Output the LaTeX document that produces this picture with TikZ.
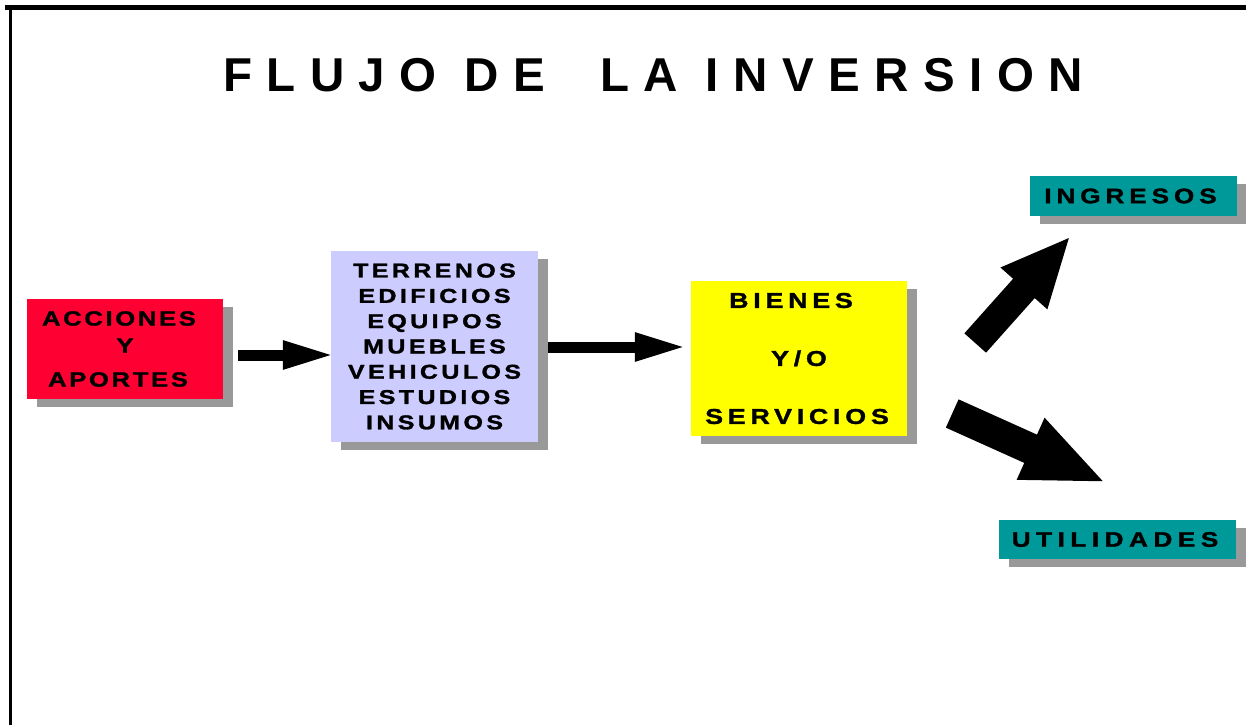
\documentclass[tikz,border=0pt]{standalone}
\usepackage{fontspec}
\setmainfont{Liberation Sans}
\newfontfamily\titlefont[LetterSpace=30.5]{Liberation Sans Bold}
\newfontfamily\boxfont[FakeStretch=1.25, FakeBold=1.5]{Liberation Sans Bold}
\usetikzlibrary{arrows.meta}
\usetikzlibrary{shadows}
\definecolor{acciones red}{HTML}{FF0033}
\definecolor{lavender}{HTML}{CCCCFF}
\definecolor{bienes yellow}{HTML}{FFFF00}
\definecolor{teal box}{HTML}{009999}
\definecolor{shadow gray}{HTML}{999999}
\newcommand\boxsize[3]{\boxfont\addfontfeature{LetterSpace=#3}\fontsize{#1}{#2}\selectfont}
\tikzstyle{block}=[inner sep=0pt, align=center,
  general shadow={shadow xshift=10pt, shadow yshift=-8pt, fill=shadow gray}]
\tikzstyle{flow arrow}=[line width=11pt, -{Triangle[length=52pt, width=26pt]}]
\tikzstyle{border}=[line cap=butt]

\begin{document}
\begin{tikzpicture}[x=1pt, y=-1pt]
      \useasboundingbox (0, 0) rectangle (1246, 725);
      \draw[border, line width=5pt] (5, 8) -- (1246, 8);
      \draw[border, line width=3pt] (10.5, 10) -- (10.5, 725);
      \node[anchor=base, font=\titlefont\fontsize{47.5}{50}\selectfont]
        (title) at (653, 91) {FLUJO DE\ \ LA INVERSION};
      \node[block, fill=acciones red, minimum width=196pt, minimum height=100pt,
        font=\boxsize{20.5}{27}{13}]
        (acciones) at (125, 349)
        {ACCIONES\hspace*{12pt}\\Y\hspace*{12pt}\\[7pt]APORTES\hspace*{14pt}};
      \node[block, fill=lavender, minimum width=207pt, minimum height=191pt,
        font=\boxsize{20}{25.3}{17}]
        (bienes capital) at (434.5, 346.5)
        {TERRENOS\\EDIFICIOS\\EQUIPOS\\MUEBLES\\VEHICULOS\\ESTUDIOS\\INSUMOS};
      \node[block, fill=bienes yellow, minimum width=216pt, minimum height=155pt,
        font=\boxsize{21.5}{58}{22}]
        (productos) at (799, 358.5)
        {BIENES\hspace*{16pt}\\Y/O\hspace*{3pt}\\SERVICIOS\hspace*{4pt}};
      \node[block, fill=teal box, minimum width=207pt, minimum height=40pt,
        font=\boxsize{21}{24}{23}]
        (ingresos) at (1133.5, 196) {INGRESOS\hspace*{6pt}};
      \node[block, fill=teal box, minimum width=237pt, minimum height=39pt,
        font=\boxsize{21}{24}{26}]
        (utilidades) at (1117.5, 539.5) {UTILIDADES\hspace*{5pt}};
      \draw[flow arrow] ([shift={(15, 6)}]acciones.east)
        -- ([shift={(4, 8.5)}]bienes capital.west);
      \draw[flow arrow] ([shift={(10, 0.5)}]bienes capital.east)
        -- ([shift={(-4, -11.5)}]productos.west);
      \draw[line width=29pt, -{Triangle[length=70pt, width=57pt]}]
        ([shift={(68, -15.5)}]productos.east) -- ([shift={(40.7, 20)}]ingresos.south west);
      \draw[line width=31pt, -{Triangle[length=83pt, width=61pt]}]
        ([shift={(45, 55)}]productos.east) -- ([shift={(107.5, -37)}]utilidades.north west);
    \end{tikzpicture}
\end{document}
